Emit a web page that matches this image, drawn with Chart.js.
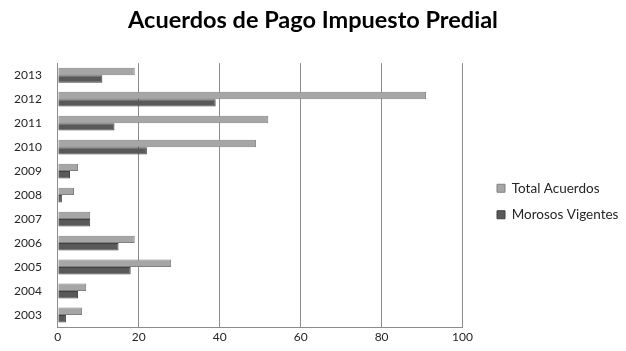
<!DOCTYPE html>
<html>
<head>
<meta charset="utf-8">
<script src="https://cdn.jsdelivr.net/npm/chart.js@4"></script>
<style>
  html, body { margin: 0; padding: 0; background: #fff; }
</style>
</head>
<body>
<canvas id="chart" width="626" height="351"></canvas>
<script>
// años de arriba hacia abajo
const years = ["2013", "2012", "2011", "2010", "2009", "2008", "2007", "2006", "2005", "2004", "2003"];
const totalAcuerdos = [19, 91, 52, 49, 5, 4, 8, 19, 28, 7, 6];
const morososVigentes = [11, 39, 14, 22, 3, 1, 8, 15, 18, 5, 2];
const xTicks = [0, 20, 40, 60, 80, 100];

Chart.defaults.font.family = "Lato, 'Open Sans', sans-serif";
Chart.defaults.color = "#262626";

// coloca leyenda y título como en Excel
const placeBlocks = {
  id: "placeBlocks",
  afterLayout(chart) {
    const lg = chart.legend;
    const dx = 484 - lg.left;
    const dy = 27;
    lg.left += dx;
    lg.right += dx;
    lg.top += dy;
    lg.bottom += dy;
    const t = chart.titleBlock;
    t.left = 0;
    t.right = chart.width;
    t.width = chart.width;
  },
};

const ctx = document.getElementById("chart").getContext("2d");
new Chart(ctx, {
  type: "bar",
  data: {
    labels: years,
    datasets: [
      {
        label: "Total Acuerdos",
        data: totalAcuerdos,
        backgroundColor: "#a6a6a6",
        borderColor: "#808080",
        borderWidth: 1,
      },
      {
        label: "Morosos Vigentes",
        data: morososVigentes,
        backgroundColor: "#595959",
        borderColor: "#404040",
        borderWidth: 1,
      },
    ],
  },
  options: {
    indexAxis: "y",
    responsive: false,
    animation: false,
    layout: { padding: { left: 6, right: 19, top: 2, bottom: 4 } },
    datasets: {
      bar: { categoryPercentage: 0.62, barPercentage: 1 },
    },
    plugins: {
      title: {
        display: true,
        text: "Acuerdos de Pago Impuesto Predial",
        font: { size: 23.5, weight: "bold" },
        color: "#000",
        padding: { top: 4, bottom: 29 },
      },
      legend: {
        position: "right",
        labels: {
          boxWidth: 8,
          boxHeight: 8,
          padding: 13,
          font: { size: 13.5 },
          color: "#262626",
        },
      },
      tooltip: { enabled: false },
    },
    scales: {
      x: {
        min: 0,
        max: 100,
        afterBuildTicks: (axis) => {
          axis.ticks = xTicks.map((v) => ({ value: v }));
        },
        grid: { color: "#8c8c8c", drawTicks: false },
        border: { display: true, color: "#8c8c8c" },
        ticks: { padding: 4, font: { size: 12, lineHeight: 1 } },
      },
      y: {
        grid: { display: false },
        border: { display: true, color: "#8c8c8c" },
        ticks: { padding: 8, font: { size: 12 } },
      },
    },
  },
  plugins: [placeBlocks],
});
</script>
</body>
</html>
